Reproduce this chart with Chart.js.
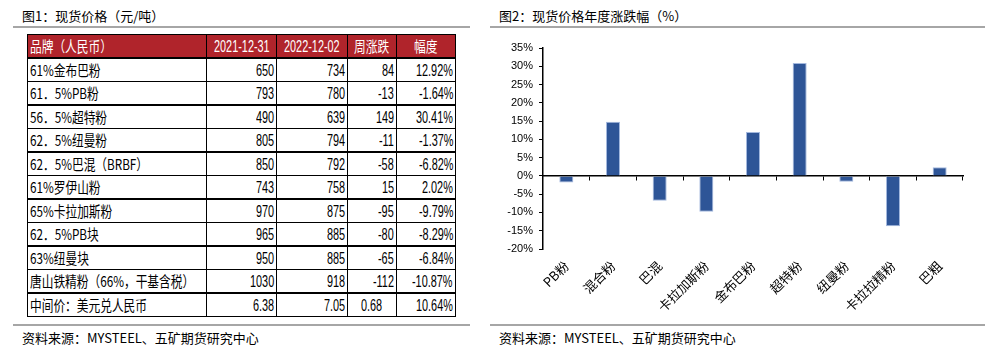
<!DOCTYPE html>
<html><head><meta charset="utf-8">
<script src="https://cdn.jsdelivr.net/npm/chart.js@4.4.1/dist/chart.umd.min.js"></script>
<style>
html,body{margin:0;padding:0;background:#fff;}
body{width:1008px;height:356px;position:relative;overflow:hidden;font-family:"Noto Sans CJK SC","Noto Sans",sans-serif;color:#000;}
.title{position:absolute;top:7px;font-size:13px;line-height:18px;}
.hr{position:absolute;height:2px;background:#a6a6a6;}
.src{position:absolute;top:329px;font-size:13px;line-height:18px;}
table{position:absolute;left:27px;top:34px;width:428px;border-collapse:collapse;table-layout:fixed;border:1.5px solid #000;}
td{border:1px solid #000;padding:0 2px;white-space:nowrap;overflow:hidden;font-size:14px;line-height:16px;vertical-align:middle;}
tr{height:23.5px;}
tr.thick td{border-bottom:2px solid #000;}
tr.head td{background:#B0242B;color:#fff;text-align:center;}
tr.head td:first-child{text-align:left;}
td.num{text-align:right;}
td.ctr{text-align:center;}
.t,.n{display:inline-block;transform-origin:left center;}
.t{font-size:15px;}
.n{font-family:"Liberation Sans",Arial,sans-serif;font-size:16px;}
#chartWrap{position:absolute;left:490px;top:30px;width:510px;height:290px;}
</style>
</head><body>
<div class="title" style="left:22px;">图1：现货价格（元/吨）</div>
<div class="hr" style="left:13px;top:26px;width:457px;"></div>
<table id="tbl">
<colgroup><col style="width:179px"><col style="width:70px"><col style="width:71px"><col style="width:49px"><col style="width:59px"></colgroup>
<tbody id="tbody"></tbody>
</table>
<div class="hr" style="left:13px;top:324px;width:457px;"></div>
<div class="src" style="left:22px;">资料来源：MYSTEEL、五矿期货研究中心</div>

<div class="title" style="left:499px;">图2：现货价格年度涨跌幅（%）</div>
<div class="hr" style="left:490px;top:26px;width:495px;"></div>
<div id="chartWrap"><canvas id="c" width="510" height="290"></canvas></div>
<div class="hr" style="left:490px;top:324px;width:495px;"></div>
<div class="src" style="left:499px;">资料来源：MYSTEEL、五矿期货研究中心</div>

<script>
// ---- Table data ----
const tableHeader = ['品牌（人民币）', '2021-12-31', '2022-12-02', '周涨跌', '幅度'];
const productNames = ['61%金布巴粉', '61．5%PB粉', '56．5%超特粉', '62．5%纽曼粉', '62．5%巴混（BRBF）', '61%罗伊山粉', '65%卡拉加斯粉', '62．5%PB块', '63%纽曼块', '唐山铁精粉（66%，干基含税）', '中间价：美元兑人民币'];
const price20211231 = ['650', '793', '490', '805', '850', '743', '970', '965', '950', '1030', '6.38'];
const price20221202 = ['734', '780', '639', '794', '792', '758', '875', '885', '885', '918', '7.05'];
const weeklyChange = ['84', '-13', '149', '-11', '-58', '15', '-95', '-80', '-65', '-112', '0.68'];
const changePct = ['12.92%', '-1.64%', '30.41%', '-1.37%', '-6.82%', '2.02%', '-9.79%', '-8.29%', '-6.84%', '-10.87%', '10.64%'];

// ---- Chart data ----
const categories = ['PB粉', '混合粉', '巴混', '卡拉加斯粉', '金布巴粉', '超特粉', '纽曼粉', '卡拉拉精粉', '巴粗'];
const annualChange = [-1.8, 14.8, -6.8, -9.8, 12.0, 30.9, -1.6, -13.8, 2.4];
const yMin = -20, yMax = 35, yStep = 5;

// build table
const tb = document.getElementById('tbody');
const thickAfter = [1, 3, 5, 7, 9];
function span(cls, text) { const s = document.createElement('span'); s.className = cls; s.textContent = text; return s; }
(function(){
  const tr = document.createElement('tr'); tr.className = 'head thick';
  tableHeader.forEach((h, i) => {
    const td = document.createElement('td');
    td.appendChild(span((i === 1 || i === 2) ? 'n' : 't', h));
    tr.appendChild(td);
  });
  tb.appendChild(tr);
})();
productNames.forEach((name, r) => {
  const tr = document.createElement('tr');
  if (thickAfter.includes(r)) tr.className = 'thick';
  const c0 = document.createElement('td'); c0.appendChild(span('t', name)); tr.appendChild(c0);
  [price20211231[r], price20221202[r], weeklyChange[r], changePct[r]].forEach((v, j) => {
    const td = document.createElement('td');
    td.className = (r === productNames.length - 1 && j === 2) ? 'ctr' : 'num';
    td.appendChild(span('n', v)); tr.appendChild(td);
  });
  tb.appendChild(tr);
});
// horizontally condense text (the reference uses narrow glyphs)
document.querySelectorAll('#tbl span').forEach(s => {
  const k = s.classList.contains('n') ? 0.68 : 0.78;
  const w = s.getBoundingClientRect().width;
  s.style.transform = 'scaleX(' + k + ')';
  s.style.marginRight = (-(w * (1 - k))) + 'px';
});

// chart
const ctx = document.getElementById('c').getContext('2d');
new Chart(ctx, {
  type: 'bar',
  data: {
    labels: categories,
    datasets: [{
      data: annualChange,
      backgroundColor: '#2E5597',
      borderColor: '#A3B8DE',
      borderWidth: 1,
      borderSkipped: 'start',
      categoryPercentage: 1,
      barPercentage: 0.3,
      xAxisID: 'x',
      yAxisID: 'y'
    }]
  },
  options: {
    responsive: false,
    animation: false,
    devicePixelRatio: 1,
    layout: { padding: { left: 0, right: 37, top: 18, bottom: 0 } },
    plugins: { legend: { display: false }, tooltip: { enabled: false } },
    scales: {
      x: {
        type: 'category',
        position: { y: 0 },
        offset: true,
        grid: { offset: true, drawOnChartArea: false, drawTicks: true, tickLength: 4, color: '#000', lineWidth: 1 },
        border: { display: true, color: '#000', width: 1.5 },
        ticks: { display: false }
      },
      xl: {
        type: 'category',
        labels: categories,
        position: 'bottom',
        offset: true,
        grid: { display: false, drawTicks: false },
        border: { display: false },
        ticks: {
          autoSkip: false, maxRotation: 45, minRotation: 45, padding: 9,
          color: '#000', font: { size: 13, family: '"Noto Sans CJK SC", sans-serif' }
        },
        afterFit(s) { s.height = 71; }
      },
      y: {
        min: yMin, max: yMax,
        grid: { drawOnChartArea: false, drawTicks: true, tickLength: 4, color: '#000' },
        border: { display: true, color: '#000', width: 1.5 },
        ticks: {
          stepSize: yStep, padding: 6, color: '#000',
          font: { size: 11, family: '"Liberation Sans", Arial, sans-serif' },
          callback: v => v + '%'
        },
        afterFit(s) { s.width = 53; }
      }
    }
  }
});
</script>
</body></html>
